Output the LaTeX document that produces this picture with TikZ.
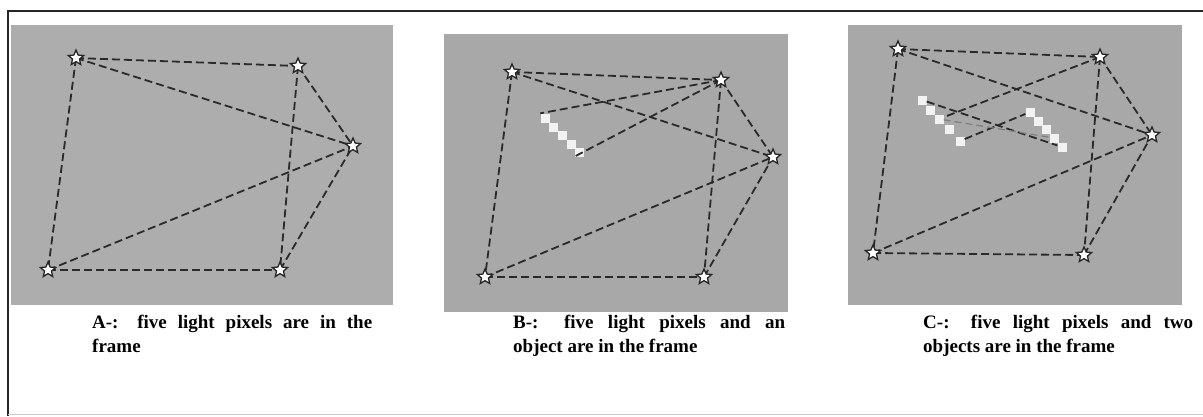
\documentclass[tikz,border=0pt]{standalone}
\usepackage{fontspec}
\setmainfont{Liberation Serif}
\usetikzlibrary{shapes.geometric}
\definecolor{panelA}{HTML}{ADADAD}
\definecolor{panelBC}{HTML}{A8A8A8}
\definecolor{dashcol}{HTML}{2A2A2A}
\definecolor{pix}{HTML}{F2F2F2}
\begin{document}
\begin{tikzpicture}[x=1pt,y=-1pt,
  link/.style={draw=dashcol, line width=1.8pt, dash pattern=on 8pt off 4pt},
  faint/.style={draw=dashcol!60, line width=1.2pt, dash pattern=on 7pt off 4pt},
  light/.style={shape=star, star points=5, star point ratio=2.2, minimum size=16pt, inner sep=0pt, draw=black!85, fill=white, line width=1.3pt},
  pixel/.style={shape=rectangle, fill=pix, minimum size=9pt, inner sep=0pt},
  caption/.style={font=\fontsize{19}{24}\selectfont\bfseries, inner sep=0pt, anchor=base west},
]
\useasboundingbox (0,0) rectangle (1203,416);
\fill[white] (0,0) rectangle (1203,416);
\draw[black!85, line width=2.5pt, line join=miter] (8,416) -- (8,11) -- (1203,11);
\draw[black!20, line width=1pt] (8,414) -- (1203,414);

% panels
\fill[panelA] (11,25) rectangle (393,305);
\fill[panelBC] (444,34) rectangle (788,312);
\fill[panelBC] (848,25) rectangle (1182,305);

% ---------- Panel A ----------
\coordinate (a1) at (76,58);
\coordinate (a2) at (298,66);
\coordinate (a3) at (353,146);
\coordinate (a4) at (48,270);
\coordinate (a5) at (280,270);
\draw[link] (a1) -- (a2);
\draw[link] (a1) -- (a3);
\draw[link] (a1) -- (a4);
\draw[link] (a4) -- (a5);
\draw[link] (a4) -- (a3);
\draw[link] (a2) -- (a5);
\draw[link] (a2) -- (a3);
\draw[link] (a5) -- (a3);
\foreach \s in {a1,a2,a3,a4,a5} \node[light] (s\s) at (\s) {};

% ---------- Panel B ----------
\node[pixel] (bo1) at (545,118) {};
\node[pixel] (bo2) at (553,127) {};
\node[pixel] (bo3) at (562,135) {};
\node[pixel] (bo4) at (571,144) {};
\node[pixel] (bo5) at (579,152) {};
\coordinate (b1) at (512,72);
\coordinate (b2) at (721,80);
\coordinate (b3) at (773,157);
\coordinate (b4) at (485,277);
\coordinate (b5) at (704,277);
\draw[link] (b1) -- (b2);
\draw[link] (b1) -- (b3);
\draw[link] (b1) -- (b4);
\draw[link] (b4) -- (b5);
\draw[link] (b4) -- (b3);
\draw[link] (b2) -- (b5);
\draw[link] (b2) -- (b3);
\draw[link] (b5) -- (b3);
\draw[link] (b2) -- (bo1.north west);
\draw[link] (b2) -- (bo5.south west);
\foreach \s in {b1,b2,b3,b4,b5} \node[light] (s\s) at (\s) {};

% ---------- Panel C ----------
\node[pixel] (p11) at (922,100) {};
\node[pixel] (p12) at (930,110) {};
\node[pixel] (p13) at (939,119) {};
\node[pixel] (p14) at (949,129) {};
\node[pixel] (p15) at (960,141) {};
\node[pixel] (p21) at (1030,112) {};
\node[pixel] (p22) at (1038,121) {};
\node[pixel] (p23) at (1046,129) {};
\node[pixel] (p24) at (1054,138) {};
\node[pixel] (p25) at (1062,147) {};
\coordinate (c1) at (898,49);
\coordinate (c2) at (1100,57);
\coordinate (c3) at (1152,135);
\coordinate (c4) at (873,253);
\coordinate (c5) at (1084,255);
\draw[link] (c1) -- (c2);
\draw[link] (c1) -- (c3);
\draw[link] (c1) -- (c4);
\draw[link] (c4) -- (c5);
\draw[link] (c4) -- (c3);
\draw[link] (c2) -- (c5);
\draw[link] (c2) -- (c3);
\draw[link] (c5) -- (c3);
\draw[link] (c2) -- (p13);
\draw[link] (p11) -- (p25);
\draw[link] (p15) -- (p21);
\draw[faint] (p13) -- (p24);
\foreach \s in {c1,c2,c3,c4,c5} \node[light] (s\s) at (\s) {};

% ---------- Captions ----------
\node[caption] (capA1) at (92,328) {\makebox[280pt][s]{A-: five light pixels are in the}};
\node[caption] (capA2) at (92,352) {frame};
\node[caption] (capB1) at (513,328) {\makebox[272pt][s]{B-: five light pixels and an}};
\node[caption] (capB2) at (513,352) {object are in the frame};
\node[caption] (capC1) at (923,328) {\makebox[270pt][s]{C-: five light pixels and two}};
\node[caption] (capC2) at (923,352) {objects are in the frame};
\end{tikzpicture}
\end{document}
